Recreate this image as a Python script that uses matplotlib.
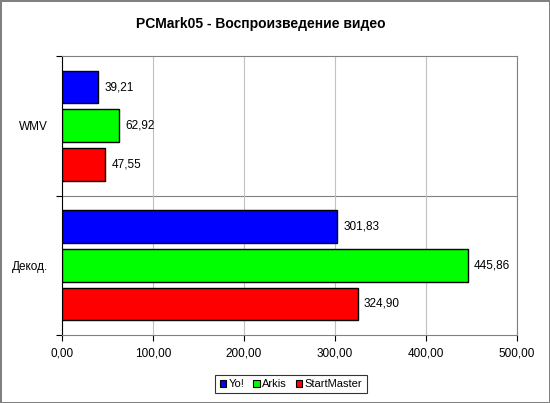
import numpy as np
import matplotlib.pyplot as plt
from matplotlib.patches import Patch

plt.rcParams['font.family'] = ['Liberation Sans', 'DejaVu Sans']

categories = ['WMV', 'Декод.']
series = ['Yo!', 'Arkis', 'StartMaster']
colors = ['#0000ff', '#00ff00', '#ff0000']
values = {
    'Yo!': [39.21, 301.83],
    'Arkis': [62.92, 445.86],
    'StartMaster': [47.55, 324.90],
}
xticks = [0, 100, 200, 300, 400, 500]


def fmt(v):
    return '{:.2f}'.format(v).replace('.', ',')


fig = plt.figure(figsize=(5.5, 4.03), dpi=100)
fig.patch.set_facecolor('white')
fig.patch.set_edgecolor('#808080')
fig.patch.set_linewidth(2)

# plot area in pixel coords: x 62..517, y 56..335 (from top)
W, H = 550, 403
ax = fig.add_axes([62 / W, 1 - 335 / H, (517 - 62) / W, (335 - 56) / H])

bar_h = 0.234
step = bar_h + 0.043
for gi, cat in enumerate(categories):
    center = gi + 0.5
    for si, s in enumerate(series):
        y = center + (si - 1) * step
        v = values[s][gi]
        ax.barh(y, v, height=bar_h, color=colors[si], edgecolor='black',
                linewidth=1.0, zorder=3)
        ax.text(v + 7, y, fmt(v), va='center', ha='left', fontsize=8.5)

ax.set_xlim(0, 500)
ax.set_ylim(2, 0)
ax.set_xticks(xticks)
ax.set_xticklabels([fmt(t) for t in xticks], fontsize=8.5)
ax.set_yticks([0, 1, 2])
ax.set_yticklabels([])
ax.set_yticks([0.5, 1.5], minor=True)
ax.set_yticklabels(categories, minor=True, fontsize=8.5)
ax.tick_params(axis='y', which='minor', length=0, pad=10)
ax.tick_params(axis='y', which='major', length=4, direction='out')
ax.tick_params(axis='x', length=4, direction='out', pad=5)
ax.grid(axis='x', color='#c0c0c0', linewidth=0.8, zorder=0)
ax.axhline(1, color='#808080', linewidth=0.8, zorder=1)

ax.spines['top'].set_color('#808080')
ax.spines['right'].set_color('#808080')
ax.spines['left'].set_color('black')
ax.spines['bottom'].set_color('#808080')
for sp in ax.spines.values():
    sp.set_linewidth(0.8)

fig.text(261 / W, 1 - 24 / H, 'PCMark05 - Воспроизведение видео', ha='center',
         va='center', fontsize=10, fontweight='bold')

handles = [Patch(facecolor=c, edgecolor='black', linewidth=0.8, label=s)
           for s, c in zip(series, colors)]
leg = fig.legend(handles=handles, loc='center', bbox_to_anchor=(291 / W, 1 - 384 / H),
                 ncol=3, fontsize=8, frameon=True, fancybox=False,
                 handlelength=0.6, handleheight=0.6, handletextpad=0.2,
                 columnspacing=0.8, borderpad=0.4)
leg.get_frame().set_edgecolor('black')
leg.get_frame().set_linewidth(0.8)

fig.savefig('out.png', dpi=100)
